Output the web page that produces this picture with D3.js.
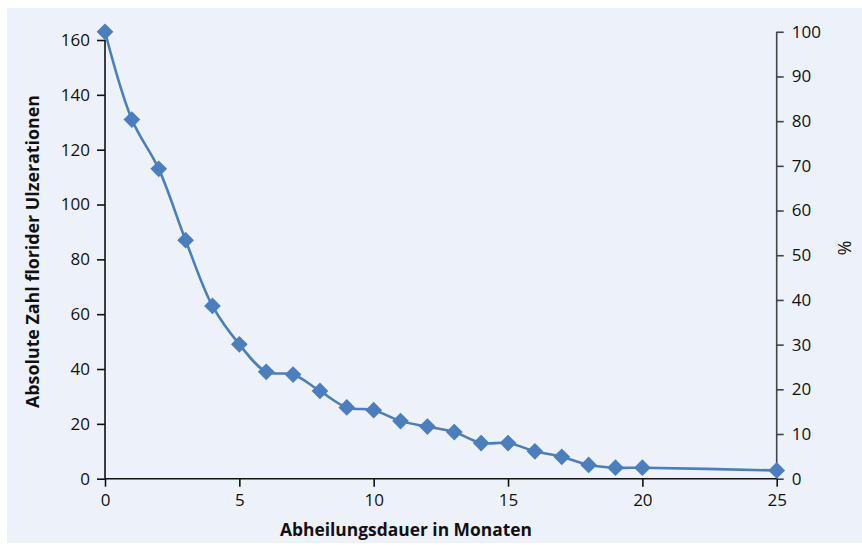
<!DOCTYPE html>
<html><head><meta charset="utf-8">
<script src="https://cdn.jsdelivr.net/npm/d3@7"></script>
<style>
html,body{margin:0;padding:0;background:#fff;}
svg{display:block;font-family:"Open Sans","Noto Sans",sans-serif;}
</style></head>
<body>
<svg id="chart" width="862" height="554"></svg>
<script>
const months = [0,1,2,3,4,5,6,7,8,9,10,11,12,13,14,15,16,17,18,19,20,25];
const ulcers = [163,131,113,87,63,49,39,38,32,26,25,21,19,17,13,13,10,8,5,4,4,3];
const leftTicks = [0,20,40,60,80,100,120,140,160];
const rightTicks = [0,10,20,30,40,50,60,70,80,90,100];
const xTicks = [0,5,10,15,20,25];
const xTitle = "Abheilungsdauer in Monaten";
const yTitle = "Absolute Zahl florider Ulzerationen";
const y2Title = "%";

const svg = d3.select("#chart");
svg.append("rect").attr("x",7).attr("y",8).attr("width",855).attr("height",535).attr("fill","#edf1fa");

const x = d3.scaleLinear().domain([0,25]).range([105,776.7]);
const y = d3.scaleLinear().domain([0,160]).range([478.7,40]);
const y2 = d3.scaleLinear().domain([0,100]).range([478.7, y(163)]);

const col = "#111";
const gL = svg.append("g").attr("transform","translate(105,0)")
  .call(d3.axisLeft(y).tickValues(leftTicks).tickSize(8).tickPadding(7).tickFormat(d3.format("d")));
const gR = svg.append("g").attr("transform","translate(776.7,0)")
  .call(d3.axisRight(y2).tickValues(rightTicks).tickSize(7).tickPadding(8).tickFormat(d3.format("d")));
const gX = svg.append("g").attr("transform","translate(0,478.7)")
  .call(d3.axisBottom(x).tickValues(xTicks).tickSize(8).tickPadding(7).tickFormat(d3.format("d")));
[gL,gR,gX].forEach(g=>{
  g.select(".domain").attr("stroke",col).attr("stroke-width",1.6);
  g.selectAll(".tick line").attr("stroke",col).attr("stroke-width",1.6);
  g.selectAll(".tick text").attr("fill","#111").style("font-size","17px").style("font-family","'Open Sans','Noto Sans',sans-serif");
});
gR.select(".domain").attr("stroke","#444");
gR.selectAll(".tick line").attr("stroke","#444");
gL.select(".domain").attr("d",`M0,${y(160)}V${y(0)}`);
gR.select(".domain").attr("d",`M0,${y2(100)}V${y2(0)}`);
gX.select(".domain").attr("d",`M${x(0)},0H${x(25)}`);

const line = d3.line().x((d,i)=>x(months[i])).y(d=>y(d)).curve(d3.curveCatmullRom.alpha(0.5));
svg.append("path").datum(ulcers).attr("d",line).attr("fill","none").attr("stroke","#4a7ebf").attr("stroke-width",2.6);

const sym = d3.symbol().type(d3.symbolSquare).size(140);
svg.selectAll(".pt").data(ulcers).enter().append("path")
  .attr("transform",(d,i)=>`translate(${x(months[i])},${y(d)}) rotate(45)`)
  .attr("d",sym).attr("fill","#4a7ebf");

svg.append("text").attr("x",406).attr("y",536).attr("text-anchor","middle")
  .attr("textLength",252).attr("lengthAdjust","spacingAndGlyphs")
  .style("font-size","17px").style("font-weight","700").attr("fill","#111").text(xTitle);
svg.append("text").attr("transform","translate(39,251.5) rotate(-90)").attr("text-anchor","middle")
  .attr("textLength",313).attr("lengthAdjust","spacingAndGlyphs")
  .style("font-size","17px").style("font-weight","700").attr("fill","#111").text(yTitle);
svg.append("text").attr("transform","translate(838,248) rotate(90)").attr("text-anchor","middle")
  .style("font-size","18px").attr("fill","#111").text(y2Title);
</script>
</body></html>
